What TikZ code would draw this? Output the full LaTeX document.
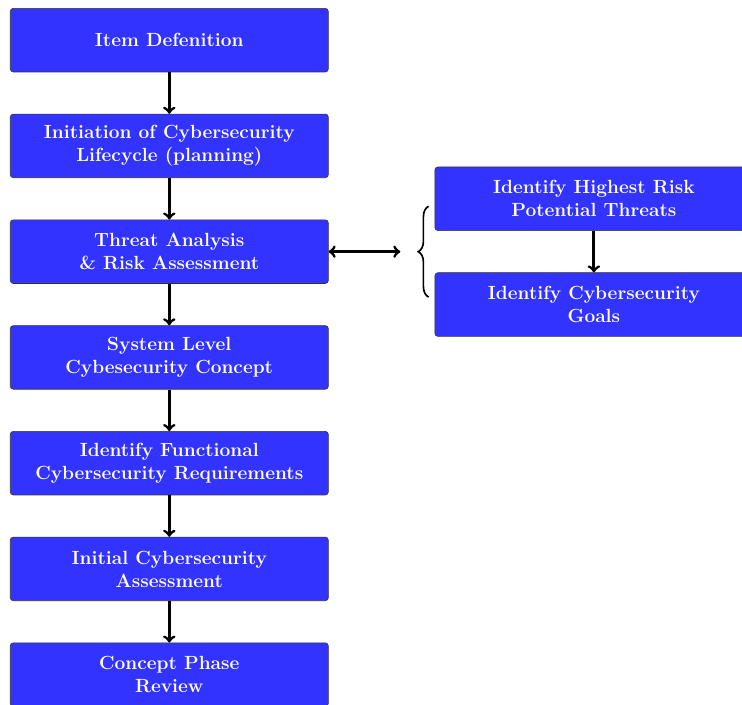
\documentclass[tikz,border=0pt]{standalone}
\usepackage{tikz}
\usetikzlibrary{positioning,calc,decorations.pathreplacing}
\tikzset{
  >=to,
  every node/.append style={align=center},
}

\begin{document}
\begin{tikzpicture}[
  node distance=9.8mm and 25mm,
  box/.style={rectangle, rounded corners=2pt, draw=black!80, fill=stepblue, text=white,
              font=\fontsize{12.8}{15.4}\selectfont\bfseries, minimum width=75mm, minimum height=15mm, inner sep=2pt},
  arrow/.style={->, line width=1.9pt},
  brace/.style={decorate, decoration={brace, amplitude=7pt}, line width=1.1pt}
]

% --- Colour ---
\definecolor{stepblue}{RGB}{51,51,255}

% --- Frame (the picture is cut at right and bottom) ---
\useasboundingbox (-6.7pt,5.4pt) rectangle (491.2pt,-467pt);
\clip (-6.7pt,5.4pt) rectangle (491.2pt,-467pt);

% --- Main lifecycle column ---
\node[box, anchor=north west] (item) at (0,0) {Item Defenition};
\node[box, below=of item] (init) {Initiation of Cybersecurity\\Lifecycle (planning)};
\node[box, below=of init] (tara) {Threat Analysis\\\& Risk Assessment};
\node[box, below=of tara] (concept) {System Level\\Cybesecurity Concept};
\node[box, below=of concept] (funcreq) {Identify Functional\\Cybersecurity Requirements};
\node[box, below=of funcreq] (assess) {Initial Cybersecurity\\Assessment};
\node[box, below=of assess] (review) {Concept Phase\\Review};

% --- TARA sub-steps ---
\node[box, above right=4.9mm and 25mm of tara.east, anchor=south west] (threats) {Identify Highest Risk\\Potential Threats};
\node[box, below=of threats] (goals) {Identify Cybersecurity\\Goals};

% --- Arrows ---
\draw[arrow] (item) -- (init);
\draw[arrow] (init) -- (tara);
\draw[arrow] (tara) -- (concept);
\draw[arrow] (concept) -- (funcreq);
\draw[arrow] (funcreq) -- (assess);
\draw[arrow] (assess) -- (review);
\draw[arrow] (threats) -- (goals);

% --- Brace and link to TARA ---
\draw[brace] ($(goals.west)+(-4pt,5pt)$) -- ($(threats.west)+(-4pt,-5pt)$);
\coordinate (bracetip) at ($(tara.east -| threats.west)+(-23pt,0)$);
\draw[arrow, <->] (tara.east) -- (bracetip);

\end{tikzpicture}
\end{document}
